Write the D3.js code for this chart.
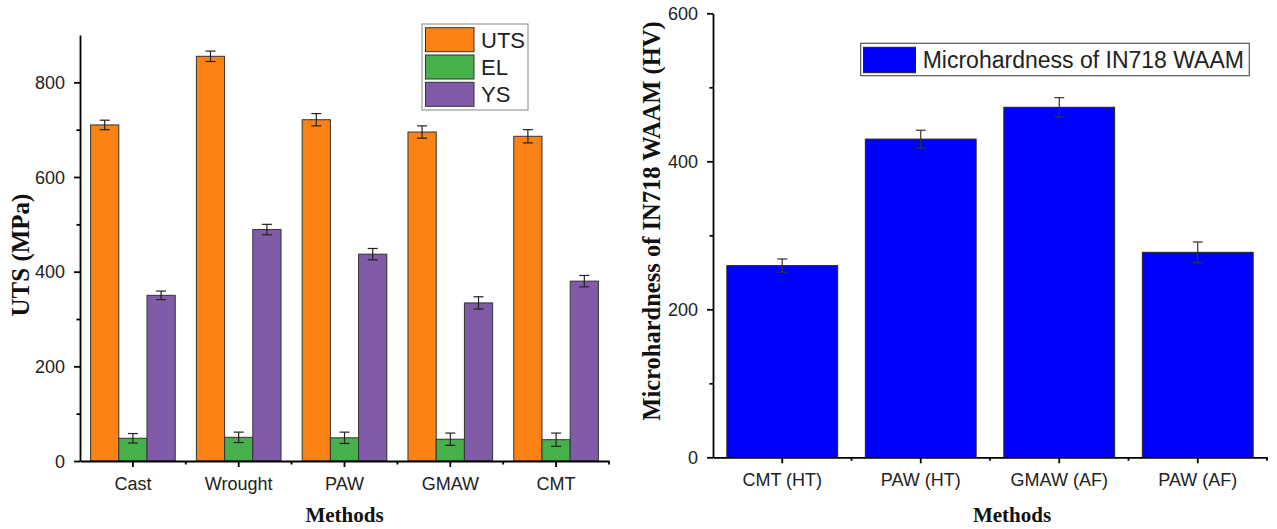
<!DOCTYPE html>
<html>
<head>
<meta charset="utf-8">
<script src="https://cdn.jsdelivr.net/npm/d3@7"></script>
<style>
  html, body { margin: 0; padding: 0; background: #fff; }
  svg { display: block; }
  .title { font-family: "Liberation Serif", "Times New Roman", serif; font-weight: bold; fill: #111; }
  .leg { font-family: "Liberation Sans", Arial, sans-serif; fill: #222; }
</style>
</head>
<body>
<svg id="chart" width="1277" height="529"></svg>
<script>
// Tensile properties by process
const methods = ["Cast", "Wrought", "PAW", "GMAW", "CMT"];
const seriesNames = ["UTS", "EL", "YS"];
const utsValues = [710, 855, 721, 695, 686];
const utsErrors = [10, 11, 13, 13, 14];
const elValues = [48, 50, 49, 46, 45];
const elErrors = [10, 11, 12, 13, 14];
const ysValues = [350, 489, 437, 334, 380];
const ysErrors = [9, 11, 12, 13, 12];
const seriesColors = ["#fd8214", "#46b04a", "#7f5ba8"];
const leftTicks = [0, 200, 400, 600, 800];
const leftMinorTicks = [100, 300, 500, 700];

// Microhardness of IN718 WAAM deposits
const hvMethods = ["CMT (HT)", "PAW (HT)", "GMAW (AF)", "PAW (AF)"];
const hvValues = [259, 430, 473, 277];
const hvErrors = [9, 12, 13, 14];
const rightTicks = [0, 200, 400, 600];
const rightMinorTicks = [100, 300, 500];

const svg = d3.select("#chart");
svg.append("rect").attr("width", 1277).attr("height", 529).attr("fill", "#fff");

function errorBar(g, cx, yScale, value, err, color) {
  const hw = 5;
  const yTop = yScale(value + err), yBot = yScale(value - err);
  g.append("line").attr("x1", cx).attr("x2", cx).attr("y1", yTop).attr("y2", yBot)
    .attr("stroke", color).attr("stroke-width", 1.2);
  [yTop, yBot].forEach(yy => g.append("line").attr("x1", cx - hw).attr("x2", cx + hw)
    .attr("y1", yy).attr("y2", yy).attr("stroke", color).attr("stroke-width", 1.2));
}

function styleAxis(g) {
  g.selectAll("path, line").attr("stroke", "#000").attr("stroke-width", 1.8);
  g.selectAll("text").attr("fill", "#222")
    .attr("font-family", "'Liberation Sans', Arial, sans-serif").attr("font-size", 18);
  return g;
}

function drawAxes(x, y, ticks, minor, bottomY, leftX) {
  const ya = svg.append("g").attr("transform", `translate(${leftX},0)`)
    .call(d3.axisLeft(y).tickValues(ticks).tickSize(6).tickPadding(9).tickSizeOuter(0));
  styleAxis(ya).selectAll(".tick text").attr("dy", "0.35em");
  const ym = svg.append("g").attr("transform", `translate(${leftX},0)`)
    .call(d3.axisLeft(y).tickValues(minor).tickSize(3.5).tickFormat("").tickSizeOuter(0));
  ym.select(".domain").remove();
  styleAxis(ym);
  const xa = svg.append("g").attr("transform", `translate(0,${bottomY})`)
    .call(d3.axisBottom(x).tickSize(6).tickPadding(10).tickSizeOuter(0));
  styleAxis(xa);
  // minor ticks at band boundaries
  const bounds = x.domain().map(d => x(d) - x.step() * x.paddingInner() / 2).slice(1);
  bounds.push(x.range()[1]);
  svg.append("g").selectAll("line").data(bounds).join("line")
    .attr("x1", d => d).attr("x2", d => d).attr("y1", bottomY).attr("y2", bottomY + 3.5)
    .attr("stroke", "#000").attr("stroke-width", 1.8);
}

// ---------- Left chart: UTS / EL / YS ----------
{
  const x = d3.scaleBand().domain(methods).range([80, 609]).paddingInner(0.2).paddingOuter(0.1);
  const y = d3.scaleLinear().domain([0, 900]).range([461, 35]);
  const xs = d3.scaleBand().domain(seriesNames).range([0, x.bandwidth()]);
  const vals = [utsValues, elValues, ysValues];
  const errs = [utsErrors, elErrors, ysErrors];

  const gBars = svg.append("g");
  seriesNames.forEach((s, si) => {
    methods.forEach((m, mi) => {
      gBars.append("rect")
        .attr("x", x(m) + xs(s)).attr("width", xs.bandwidth())
        .attr("y", y(vals[si][mi])).attr("height", y(0) - y(vals[si][mi]))
        .attr("fill", seriesColors[si]).attr("stroke", "#333").attr("stroke-width", 1);
    });
  });
  seriesNames.forEach((s, si) => {
    methods.forEach((m, mi) => {
      errorBar(gBars, x(m) + xs(s) + xs.bandwidth() / 2, y, vals[si][mi], errs[si][mi], "#222");
    });
  });

  drawAxes(x, y, leftTicks, leftMinorTicks, 461, 80);

  svg.append("text").attr("class", "title").attr("font-size", 25)
    .attr("text-anchor", "middle").attr("transform", "translate(28.5,255) rotate(-90)")
    .text("UTS (MPa)");
  svg.append("text").attr("class", "title").attr("font-size", 21)
    .attr("text-anchor", "middle").attr("x", 344.5).attr("y", 522).text("Methods");

  // legend
  const lg = svg.append("g");
  lg.append("rect").attr("x", 422).attr("y", 24).attr("width", 106).attr("height", 86)
    .attr("fill", "#fff").attr("stroke", "#999").attr("stroke-width", 1.2);
  seriesNames.forEach((s, i) => {
    const top = 27.7 + i * 27.3;
    lg.append("rect").attr("x", 425.5).attr("y", top).attr("width", 48.5).attr("height", 24)
      .attr("fill", seriesColors[i]).attr("stroke", "#333").attr("stroke-width", 1);
    lg.append("text").attr("class", "leg").attr("font-size", 22)
      .attr("x", 481).attr("y", top + 12 + 8).text(s);
  });
}

// ---------- Right chart: microhardness ----------
{
  const x = d3.scaleBand().domain(hvMethods).range([713, 1267]).paddingInner(0.2).paddingOuter(0.1);
  const y = d3.scaleLinear().domain([0, 600]).range([457.3, 13.3]);

  const gBars = svg.append("g");
  hvMethods.forEach((m, i) => {
    gBars.append("rect")
      .attr("x", x(m)).attr("width", x.bandwidth())
      .attr("y", y(hvValues[i])).attr("height", y(0) - y(hvValues[i]))
      .attr("fill", "#0000ff").attr("stroke", "#222").attr("stroke-width", 1);
  });
  hvMethods.forEach((m, i) => {
    errorBar(gBars, x(m) + x.bandwidth() / 2, y, hvValues[i], hvErrors[i], "#333");
  });

  drawAxes(x, y, rightTicks, rightMinorTicks, 457.3, 713);

  svg.append("text").attr("class", "title").attr("font-size", 24.5)
    .attr("text-anchor", "middle").attr("transform", "translate(660,221) rotate(-90)")
    .text("Microhardness of IN718 WAAM (HV)");
  svg.append("text").attr("class", "title").attr("font-size", 21)
    .attr("text-anchor", "middle").attr("x", 1012).attr("y", 522).text("Methods");

  const lg = svg.append("g");
  lg.append("rect").attr("x", 860.7).attr("y", 43.3).attr("width", 388.6).attr("height", 32.4)
    .attr("fill", "#fff").attr("stroke", "#555").attr("stroke-width", 1.2);
  lg.append("rect").attr("x", 863.5).attr("y", 47.3).attr("width", 52).attr("height", 25.4)
    .attr("fill", "#0000ff").attr("stroke", "#222").attr("stroke-width", 1);
  lg.append("text").attr("class", "leg").attr("font-size", 23)
    .attr("x", 922.7).attr("y", 68.3).text("Microhardness of IN718 WAAM");
}
</script>
</body>
</html>
